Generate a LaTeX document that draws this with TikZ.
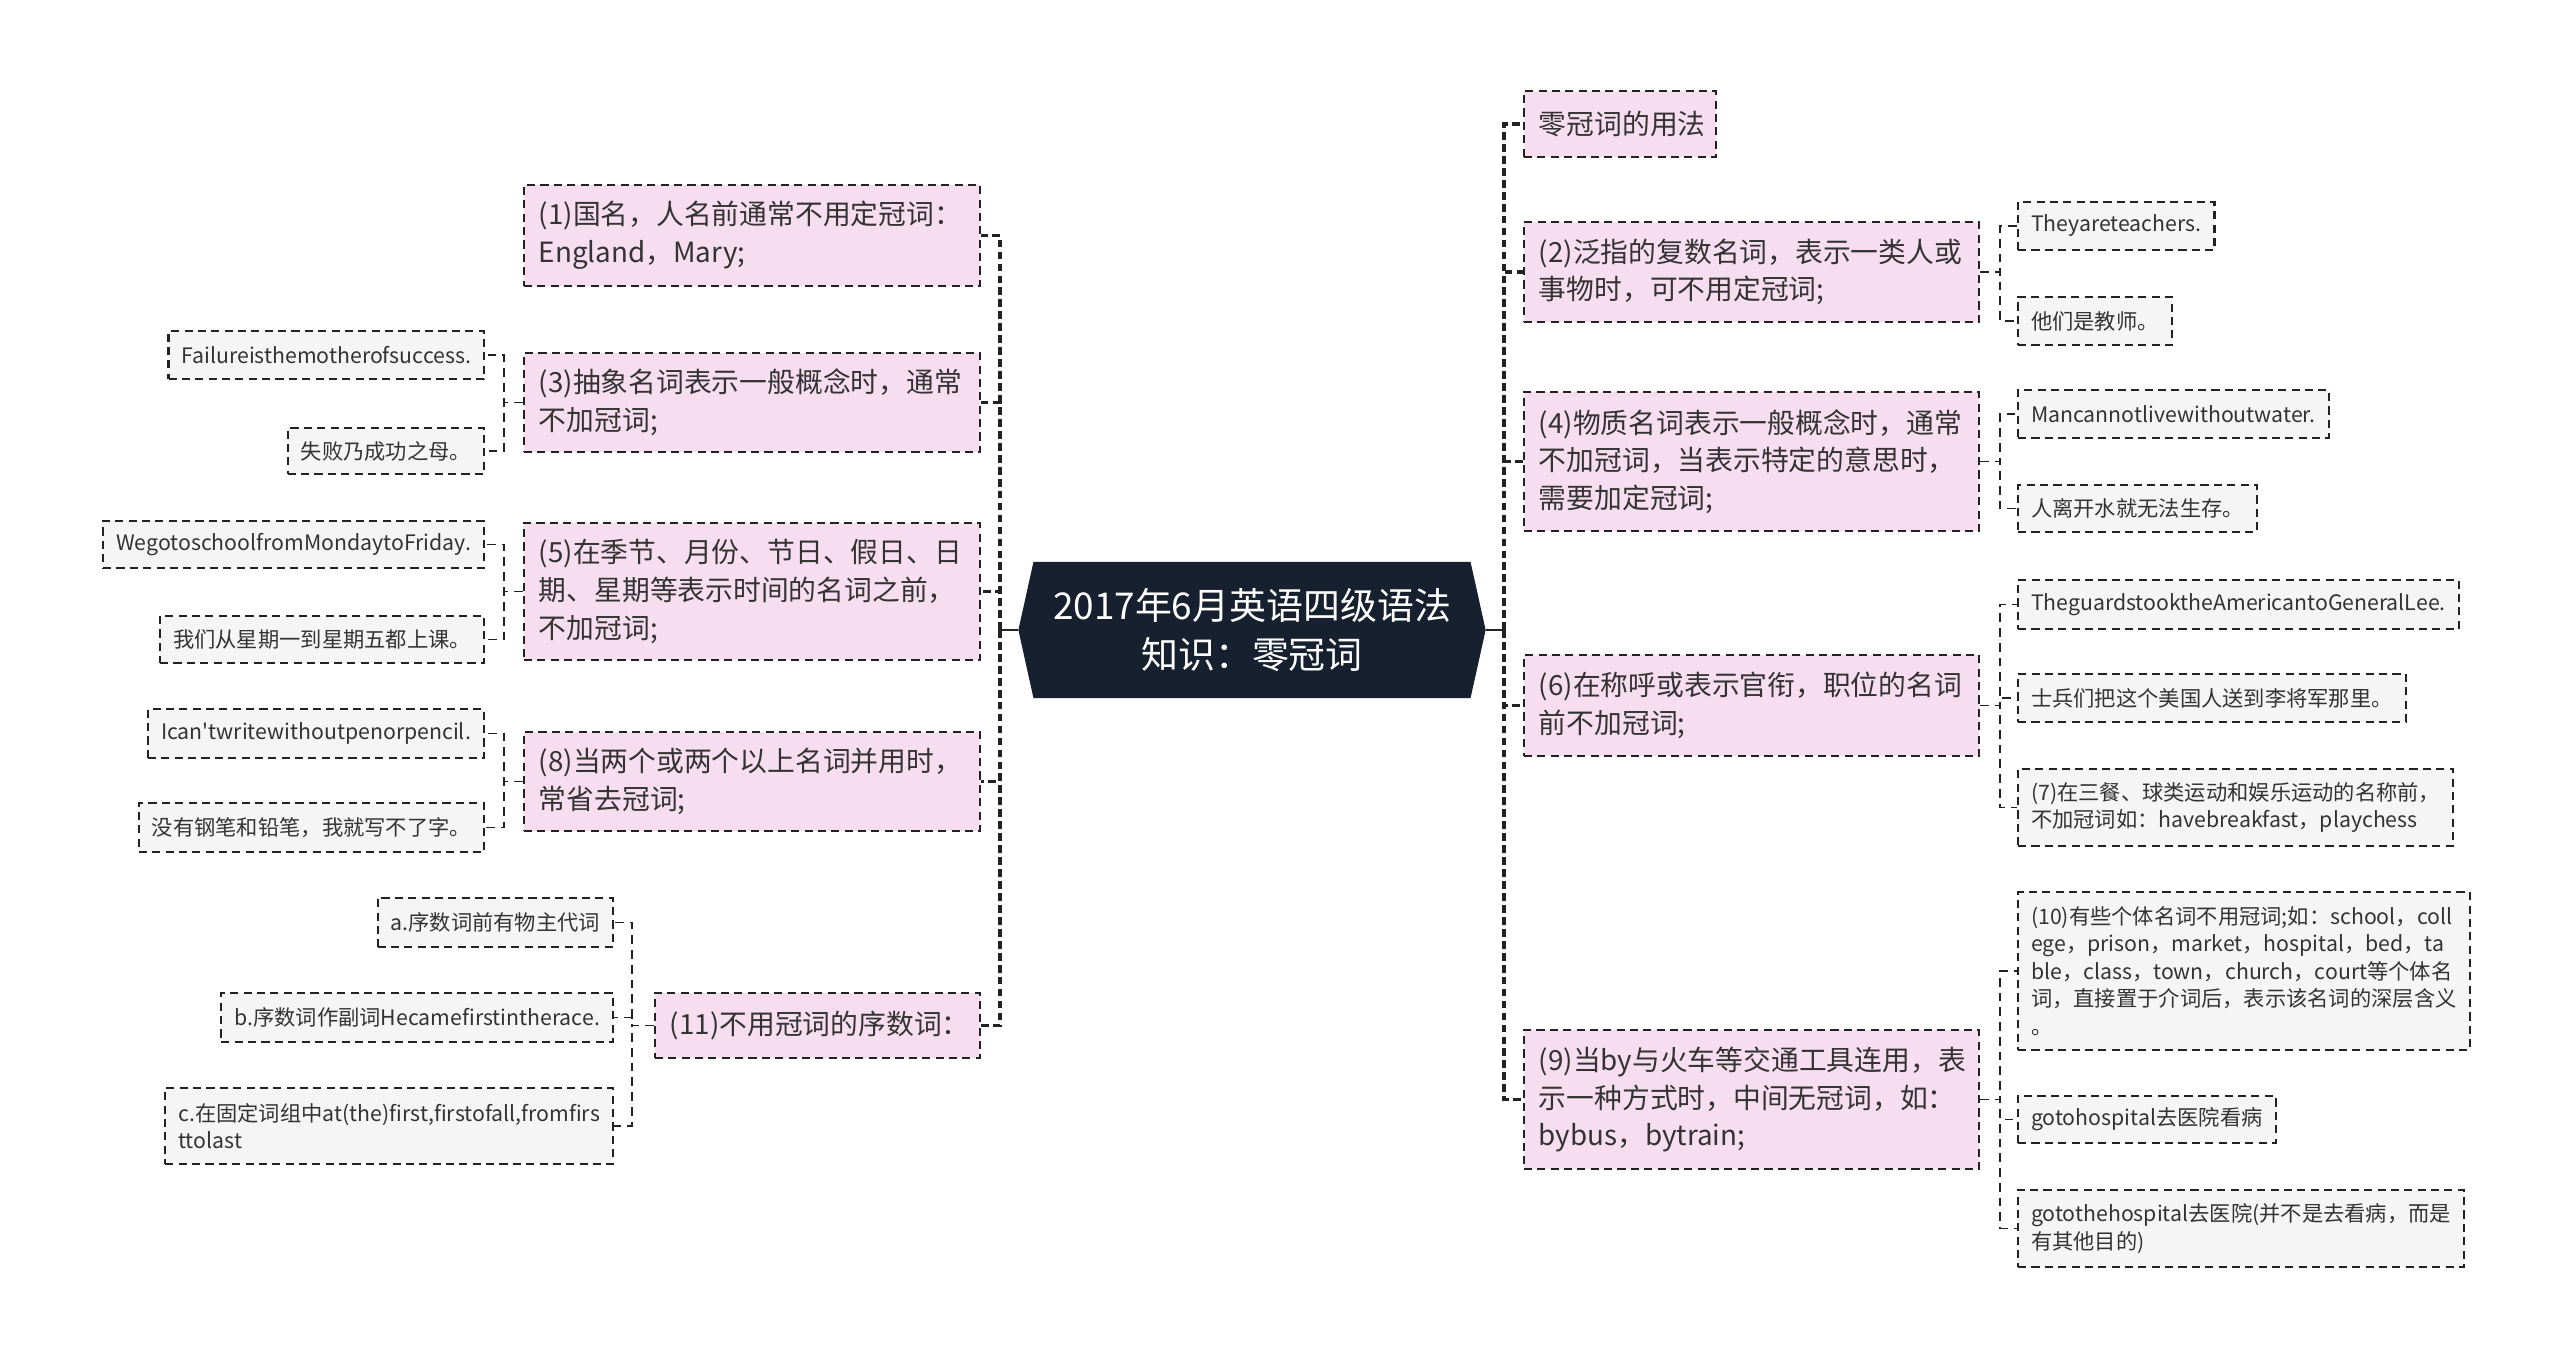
\documentclass[tikz,border=0pt]{standalone}
\usepackage{fontspec}
\setmainfont{Noto Sans CJK SC}[Ligatures=TeXOff]
\usetikzlibrary{shapes.symbols}
\definecolor{rootfill}{HTML}{16202E}
\definecolor{pinkfill}{HTML}{F7DDF0}
\definecolor{grayfill}{HTML}{F5F5F5}
\definecolor{linecol}{HTML}{222222}
\definecolor{textcol}{HTML}{333333}
\begin{document}
\begin{tikzpicture}[x=0.01cm, y=-0.01cm,
    every node/.style={inner ysep=0pt, text=textcol},
    pinkbox/.style 2 args={draw=linecol, fill=pinkfill, line width=0.6pt,
      dash pattern=on 2.3pt off 1.5pt, inner xsep=0.15cm, align=left,
      font=\fontsize{7.9}{10.7}\selectfont, text width=#1, minimum height=#2},
    graybox/.style={draw=linecol, fill=grayfill, line width=0.6pt,
      dash pattern=on 2.3pt off 1.5pt, inner xsep=0.13cm, align=left,
      font=\fontsize{6.05}{7.8}\selectfont, minimum height=#1},
    graybox/.default=0.48cm,
    rootbox/.style={shape=signal, signal to=west and east, signal pointer angle=155,
      fill=rootfill, text=white, align=center, inner xsep=0.1cm,
      font=\fontsize{10.5}{14}\selectfont, minimum width=4.67cm, minimum height=1.36cm},
    rootlink/.style={draw=linecol, line width=0.8pt},
    trunk/.style={draw=linecol, line width=1pt, dash pattern=on 2.2pt off 1.2pt},
    branch/.style={draw=linecol, line width=0.55pt, dash pattern=on 2.5pt off 1.7pt}]
  \useasboundingbox (0,0) rectangle (2560,1360);

  % centre
  \node[rootbox] (root) at (1252,630) {2017年6月英语四级语法\\知识：零冠词};

  % left branches
  \node[pinkbox={4.26cm}{1.01cm}] (p1) at (752,235.5) {(1)国名，人名前通常不用定冠词：\\England，Mary;};
  \node[pinkbox={4.26cm}{0.99cm}] (p3) at (752,402.5) {(3)抽象名词表示一般概念时，通常\\不加冠词;};
  \node[pinkbox={4.26cm}{1.37cm}] (p5) at (752,591.5) {(5)在季节、月份、节日、假日、日\\期、星期等表示时间的名词之前，\\不加冠词;};
  \node[pinkbox={4.26cm}{0.99cm}] (p8) at (752,781.5) {(8)当两个或两个以上名词并用时，\\常省去冠词;};
  \node[pinkbox={2.95cm}{0.65cm}] (p11) at (817.5,1025.5) {(11)不用冠词的序数词：};

  \node[graybox, anchor=east] (g3a) at (485,355) {Failureisthemotherofsuccess.};
  \node[graybox=0.46cm, anchor=east] (g3b) at (485,451) {失败乃成功之母。};
  \node[graybox=0.47cm, anchor=east] (g5a) at (485,544.5) {WegotoschoolfromMondaytoFriday.};
  \node[graybox=0.47cm, anchor=east] (g5b) at (485,639.5) {我们从星期一到星期五都上课。};
  \node[graybox=0.49cm, anchor=east] (g8a) at (485,733.5) {Ican'twritewithoutpenorpencil.};
  \node[graybox=0.49cm, anchor=east] (g8b) at (485,827.5) {没有钢笔和铅笔，我就写不了字。};
  \node[graybox=0.49cm, anchor=east] (g11a) at (614,922.5) {a.序数词前有物主代词};
  \node[graybox=0.49cm, anchor=east] (g11b) at (614,1017.5) {b.序数词作副词Hecamefirstintherace.};
  \node[graybox=0.76cm, anchor=east] (g11c) at (614,1126) {c.在固定词组中at(the)first,firstofall,fromfirs\\ttolast};

  % right branches
  \node[pinkbox={1.62cm}{0.66cm}] (r0) at (1620,124) {零冠词的用法};
  \node[pinkbox={4.25cm}{1.00cm}] (r2) at (1751.5,272) {(2)泛指的复数名词，表示一类人或\\事物时，可不用定冠词;};
  \node[pinkbox={4.25cm}{1.39cm}] (r4) at (1751.5,461.5) {(4)物质名词表示一般概念时，通常\\不加冠词，当表示特定的意思时，\\需要加定冠词;};
  \node[pinkbox={4.25cm}{1.01cm}] (r6) at (1751.5,705.5) {(6)在称呼或表示官衔，职位的名词\\前不加冠词;};
  \node[pinkbox={4.25cm}{1.39cm}] (r9) at (1751.5,1099.5) {(9)当by与火车等交通工具连用，表\\示一种方式时，中间无冠词，如：\\bybus，bytrain;};

  \node[graybox, anchor=west] (h2a) at (2017,226) {Theyareteachers.};
  \node[graybox, anchor=west] (h2b) at (2017,321) {他们是教师。};
  \node[graybox, anchor=west] (h4a) at (2017,414) {Mancannotlivewithoutwater.};
  \node[graybox=0.47cm, anchor=west] (h4b) at (2017,508.5) {人离开水就无法生存。};
  \node[graybox=0.49cm, anchor=west] (h6a) at (2017,604.5) {TheguardstooktheAmericantoGeneralLee.};
  \node[graybox, anchor=west] (h6b) at (2017,698) {士兵们把这个美国人送到李将军那里。};
  \node[graybox=0.77cm, anchor=west] (h6c) at (2017,807.5) {(7)在三餐、球类运动和娱乐运动的名称前，\\不加冠词如：havebreakfast，playchess};
  \node[graybox=1.58cm, anchor=west] (h9a) at (2017,971) {(10)有些个体名词不用冠词;如：school，coll\\ege，prison，market，hospital，bed，ta\\ble，class，town，church，court等个体名\\词，直接置于介词后，表示该名词的深层含义\\。};
  \node[graybox=0.47cm, anchor=west] (h9b) at (2017,1119.5) {gotohospital去医院看病};
  \node[graybox=0.77cm, anchor=west] (h9c) at (2017,1228.5) {gotothehospital去医院(并不是去看病，而是\\有其他目的)};

  % connectors
  \coordinate (trunkL) at (1000,630);
  \coordinate (trunkR) at (1504,630);
  \draw[rootlink] (root.west) -- (trunkL);
  \draw[rootlink] (root.east) -- (trunkR);
  \foreach \c in {p1,p3,p5,p8,p11}
    \draw[trunk] (trunkL) |- (\c.east);
  \foreach \c in {r0,r2,r4,r6,r9}
    \draw[trunk] (trunkR) |- (\c.west);

  \foreach \c in {g3a,g3b} \draw[branch] (p3.west) -- ++(-19,0) |- (\c.east);
  \foreach \c in {g5a,g5b} \draw[branch] (p5.west) -- ++(-19,0) |- (\c.east);
  \foreach \c in {g8a,g8b} \draw[branch] (p8.west) -- ++(-19,0) |- (\c.east);
  \foreach \c in {g11a,g11b,g11c} \draw[branch] (p11.west) -- ++(-22,0) |- (\c.east);
  \foreach \c in {h2a,h2b} \draw[branch] (r2.east) -- ++(20,0) |- (\c.west);
  \foreach \c in {h4a,h4b} \draw[branch] (r4.east) -- ++(20,0) |- (\c.west);
  \foreach \c in {h6a,h6b,h6c} \draw[branch] (r6.east) -- ++(20,0) |- (\c.west);
  \foreach \c in {h9a,h9b,h9c} \draw[branch] (r9.east) -- ++(20,0) |- (\c.west);
\end{tikzpicture}
\end{document}
